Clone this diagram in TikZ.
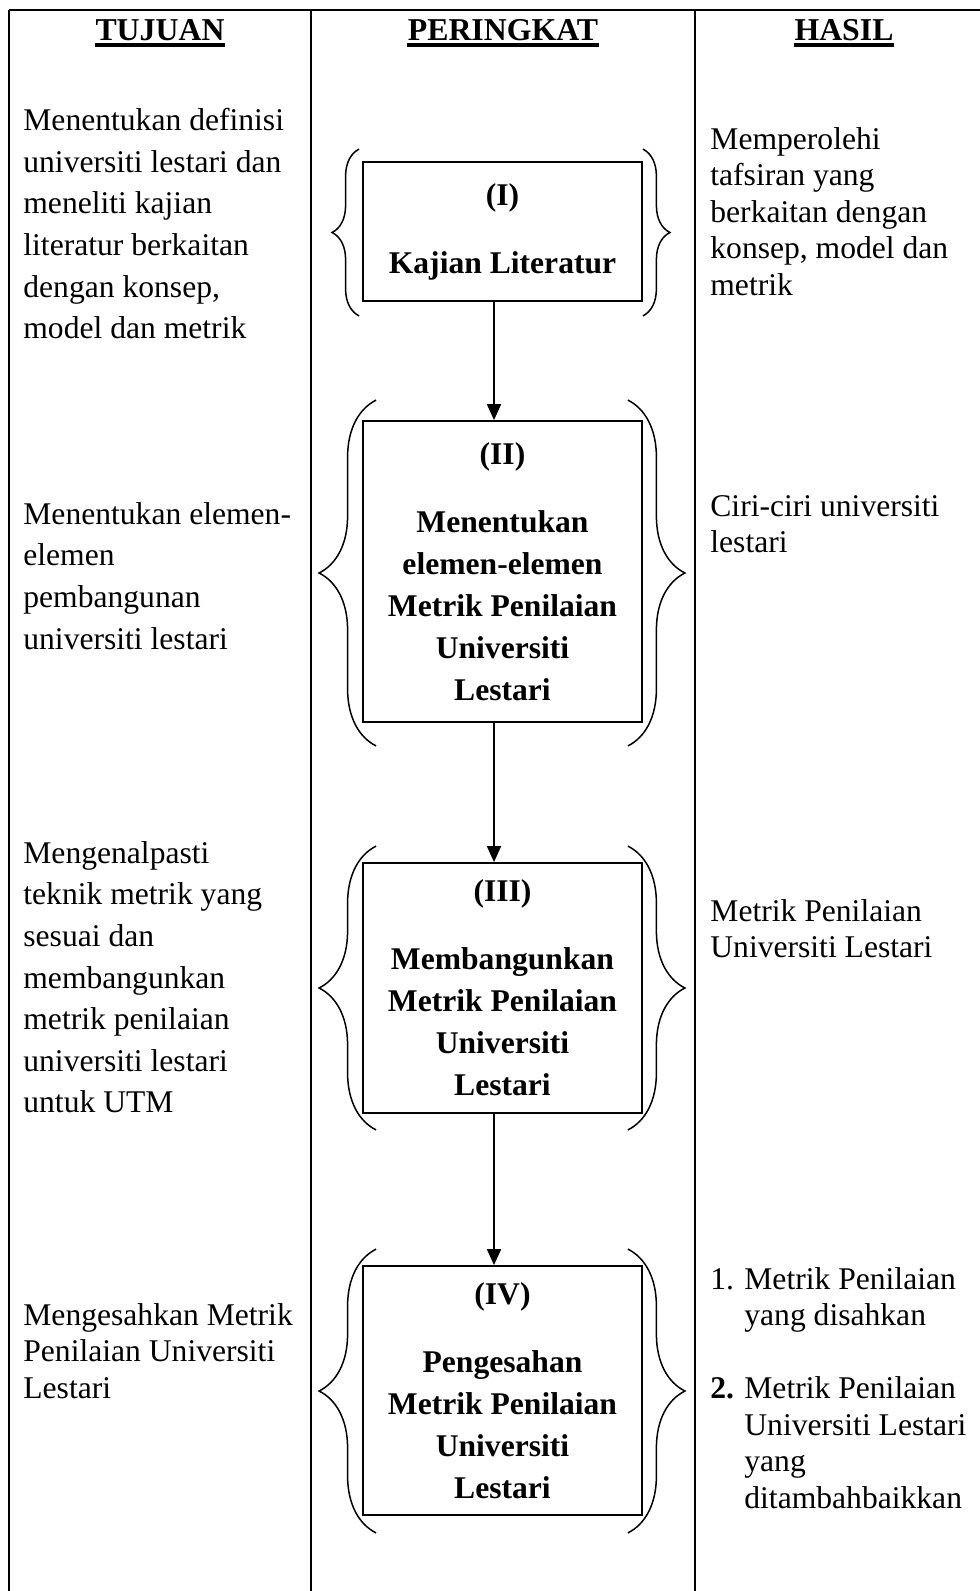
\documentclass[tikz,border=0pt]{standalone}
\usepackage{fontspec}
\setmainfont{Liberation Serif}
\usetikzlibrary{positioning,arrows.meta,calc,decorations.pathreplacing}
\tikzset{
  fig/.style={font=\fontsize{15.8}{20.8}\selectfont},
  gridline/.style={line width=1pt},
  hdr/.style={font=\fontsize{15.9}{19}\selectfont\bfseries,inner sep=0pt,text depth=0pt},
  hdrline/.style={line width=1.6pt},
  coltxt/.style={anchor=north west,align=left,inner sep=0pt},
  tightlines/.style={font=\fontsize{15.8}{18.25}\selectfont},
  stagebox/.style={draw,line width=0.9pt,minimum width=139.5pt,align=center,
                   inner sep=2pt,font=\fontsize{15.8}{21}\selectfont\bfseries},
  ln/.style={-{Triangle[length=8pt,width=7pt]},line width=0.9pt},
  brc/.style={decorate,decoration={brace,amplitude=#1},line width=0.75pt},
}
\newcommand{\itemno}[1]{\makebox[17pt][l]{#1}}

\begin{document}
\begin{tikzpicture}[fig,x=0.5pt,y=-0.5pt]
\useasboundingbox (0,0) rectangle (980,1591);

% table frame
\draw[gridline] (8.5,10) -- (980,10);
\draw[gridline] (9,10) -- (9,1591);
\draw[gridline] (311,10) -- (311,1591);
\draw[gridline] (695,10) -- (695,1591);

% column heads
\node[hdr,anchor=base] (hTujuan) at (160,40) {TUJUAN};
\node[hdr,anchor=base] (hPeringkat) at (503,40) {PERINGKAT};
\node[hdr,anchor=base] (hHasil) at (844,40) {HASIL};
\draw[hdrline] ([yshift=-2.5pt]hTujuan.base west) -- ([yshift=-2.5pt]hTujuan.base east);
\draw[hdrline] ([yshift=-2.5pt]hPeringkat.base west) -- ([yshift=-2.5pt]hPeringkat.base east);
\draw[hdrline] ([yshift=-2.5pt]hHasil.base west) -- ([yshift=-2.5pt]hHasil.base east);

% tujuan
\node[coltxt] (t1) at (23,108)
  {Menentukan definisi\\universiti lestari dan\\meneliti kajian\\literatur berkaitan\\dengan konsep,\\model dan metrik};
\node[coltxt] (t2) at (23,502)
  {Menentukan elemen-\\elemen\\pembangunan\\universiti lestari};
\node[coltxt] (t3) at (23,841)
  {Mengenalpasti\\teknik metrik yang\\sesuai dan\\membangunkan\\metrik penilaian\\universiti lestari\\untuk UTM};
\node[coltxt,tightlines] (t4) at (23,1303)
  {Mengesahkan Metrik\\Penilaian Universiti\\Lestari};

% peringkat
\node[stagebox,minimum height=69.5pt] (b1) at (502.5,231.5)
  {(I)\\[13pt]Kajian Literatur};
\node[stagebox,minimum height=150.5pt] (b2) at (502.5,571.5)
  {(II)\\[13pt]Menentukan\\elemen-elemen\\Metrik Penilaian\\Universiti\\Lestari};
\node[stagebox,minimum height=125pt] (b3) at (502.5,988)
  {(III)\\[13pt]Membangunkan\\Metrik Penilaian\\Universiti\\Lestari};
\node[stagebox,minimum height=124.5pt] (b4) at (502.5,1390.5)
  {(IV)\\[13pt]Pengesahan\\Metrik Penilaian\\Universiti\\Lestari};

\draw[ln] ([xshift=-4.25pt]b1.south) -- ([xshift=-4.25pt]b2.north);
\draw[ln] ([xshift=-4.25pt]b2.south) -- ([xshift=-4.25pt]b3.north);
\draw[ln] ([xshift=-4.25pt]b3.south) -- ([xshift=-4.25pt]b4.north);

\draw[brc=13.5pt] ([shift={(-1.5pt,-7pt)}]b1.south west) -- ([shift={(-1.5pt,6pt)}]b1.north west);
\draw[brc=13.5pt] ([shift={(0pt,6pt)}]b1.north east) -- ([shift={(0pt,-7pt)}]b1.south east);
\draw[brc=28.5pt] ([shift={(7pt,-11.5pt)}]b2.south west) -- ([shift={(7pt,10pt)}]b2.north west);
\draw[brc=28.5pt] ([shift={(-7.5pt,10pt)}]b2.north east) -- ([shift={(-7.5pt,-11.5pt)}]b2.south east);
\draw[brc=28.5pt] ([shift={(7pt,-8pt)}]b3.south west) -- ([shift={(7pt,8pt)}]b3.north west);
\draw[brc=28.5pt] ([shift={(-7.5pt,8pt)}]b3.north east) -- ([shift={(-7.5pt,-8pt)}]b3.south east);
\draw[brc=28.5pt] ([shift={(7pt,-8.5pt)}]b4.south west) -- ([shift={(7pt,8pt)}]b4.north west);
\draw[brc=28.5pt] ([shift={(-7.5pt,8pt)}]b4.north east) -- ([shift={(-7.5pt,-8.5pt)}]b4.south east);

% hasil
\node[coltxt,tightlines] (r1) at (710,127)
  {Memperolehi\\tafsiran yang\\berkaitan dengan\\konsep, model dan\\metrik};
\node[coltxt,tightlines] (r2) at (710,495)
  {Ciri-ciri universiti\\lestari};
\node[coltxt,tightlines] (r3) at (710,899)
  {Metrik Penilaian\\Universiti Lestari};
\node[coltxt,tightlines] (r4) at (710,1267)
  {\itemno{1.}Metrik Penilaian\\\hspace*{17pt}yang disahkan\\[18.25pt]
   \itemno{\textbf{2.}}Metrik Penilaian\\\hspace*{17pt}Universiti Lestari\\\hspace*{17pt}yang\\\hspace*{17pt}ditambahbaikkan};

\end{tikzpicture}
\end{document}
